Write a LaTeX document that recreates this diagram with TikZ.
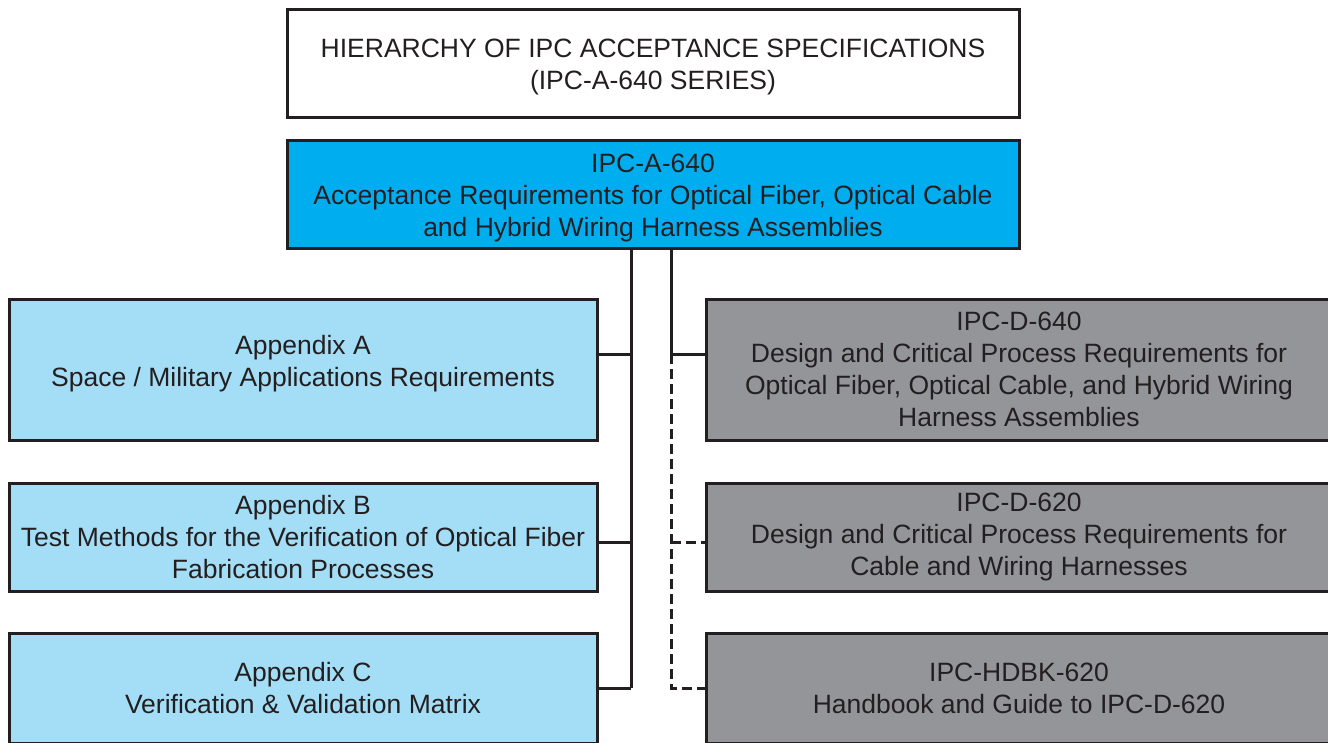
\documentclass[tikz,border=0pt]{standalone}
\usepackage{fontspec}
\setmainfont{Liberation Sans}
\definecolor{ink}{HTML}{231F20}
\definecolor{mainblue}{HTML}{00AEEF}
\definecolor{lightblue}{HTML}{A4DDF6}
\definecolor{boxgray}{HTML}{939598}
\tikzset{
  box/.style={draw=ink, line width=3pt, inner sep=0pt},
  lbox/.style={box, fill=lightblue, minimum width=588pt},
  gbox/.style={box, fill=boxgray, minimum width=626pt},
  txt/.style={inner sep=0pt, align=center, text=ink, font=\fontsize{26.5}{32}\selectfont},
  ttxt/.style={txt, yshift=-3.5pt},
  conn/.style={draw=ink, line width=3pt},
  dconn/.style={conn, dash pattern=on 10pt off 5pt},
}
\begin{document}
\begin{tikzpicture}[x=1pt,y=-1pt]
\clip (0,0) rectangle (1328,742);
\fill[white] (0,0) rectangle (1328,742);

\node[box, fill=white, minimum width=732pt, minimum height=108pt,
  label={[ttxt]center:{HIERARCHY OF IPC ACCEPTANCE SPECIFICATIONS\\(IPC-A-640 SERIES)}}] (title) at (653,63) {};
\node[box, fill=mainblue, minimum width=732pt, minimum height=108pt,
  label={[ttxt]center:{IPC-A-640\\Acceptance Requirements for Optical Fiber, Optical Cable\\and Hybrid Wiring Harness Assemblies}}] (main) at (653,194) {};

\node[lbox, minimum height=141pt] (A) at (303,369.5) {};
\node[txt] (Atext) at (303,364) {Appendix A\\Space / Military Applications Requirements};
\node[lbox, minimum height=108pt,
  label={[txt]center:{Appendix B\\Test Methods for the Verification of Optical Fiber\\Fabrication Processes}}] (B) at (303,537) {};
\node[lbox, minimum height=110pt,
  label={[txt]center:{Appendix C\\Verification \& Validation Matrix}}] (C) at (303,688) {};

\node[gbox, minimum height=141pt,
  label={[txt]center:{IPC-D-640\\Design and Critical Process Requirements for\\Optical Fiber, Optical Cable, and Hybrid Wiring\\Harness Assemblies}}] (D640) at (1019,369.5) {};
\node[gbox, minimum height=108pt,
  label={[txt]center:{IPC-D-620\\Design and Critical Process Requirements for\\Cable and Wiring Harnesses}}] (D620) at (1019,537) {};
\node[gbox, minimum height=110pt,
  label={[txt]center:{IPC-HDBK-620\\Handbook and Guide to IPC-D-620}}] (HDBK) at (1019,688) {};

\coordinate (L0) at (631,248);
\coordinate (L1) at (631,354);
\coordinate (L2) at (631,542);
\coordinate (L3) at (631,688);
\coordinate (R0) at (671,248);
\coordinate (R1) at (671,354);
\coordinate (R2) at (671,542);
\coordinate (R3) at (671,688);

\draw[conn] (L0) -- (L3);
\draw[conn] (A.east |- L1) -- (L1);
\draw[conn] (B.east |- L2) -- (L2);
\draw[conn] (C.east |- L3) -- (L3);
\draw[conn] (R0) -- (R1) -- (D640.west |- R1);
\draw[dconn] (R1) -- (R3) -- (HDBK.west |- R3);
\draw[dconn] (R2) -- (D620.west |- R2);
\end{tikzpicture}
\end{document}
